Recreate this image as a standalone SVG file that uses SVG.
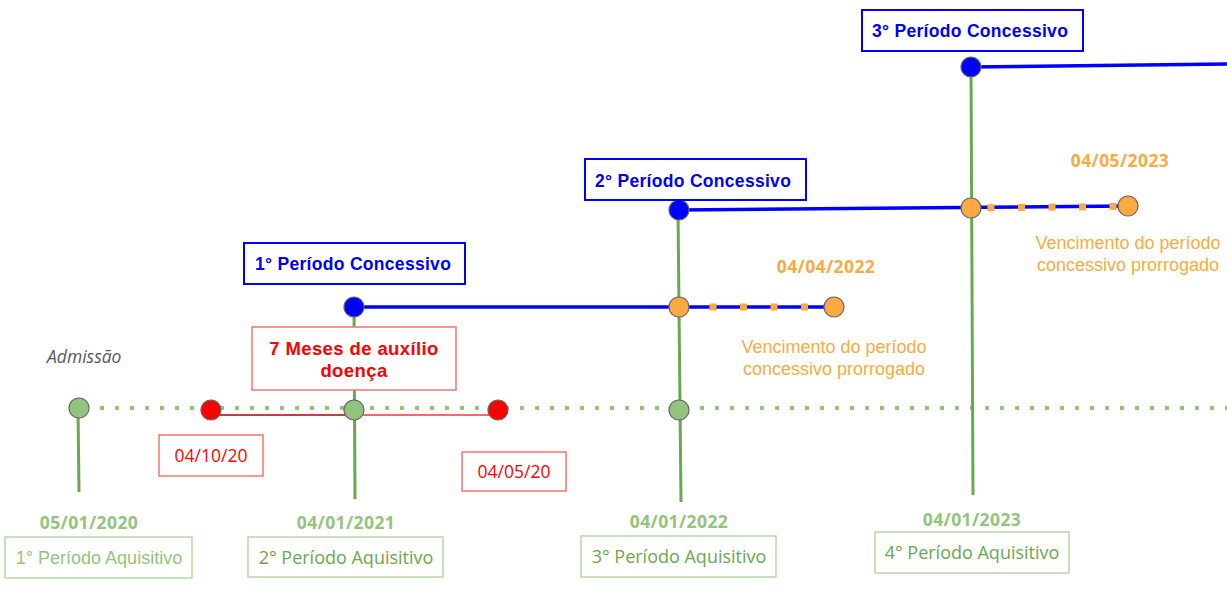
<svg xmlns="http://www.w3.org/2000/svg" width="1227" height="598" viewBox="0 0 1227 598">
<style>
.gn{fill:#93c47d;stroke:#666;stroke-width:1.2}
.rn{fill:#ff0000;stroke:#666;stroke-width:1.2}
.bn{fill:#0000ff;stroke:#666;stroke-width:1.2}
.on{fill:#fbaa42;stroke:#666;stroke-width:1.2}
.vl{stroke:#6aa84f;stroke-width:3;fill:none}
.bl{stroke:#0000ff;stroke-width:3.5;fill:none}
.od{stroke:#fbaa42;stroke-width:7;stroke-dasharray:7 23.5;fill:none}
.bbox{fill:#fff;stroke:#0000ff;stroke-width:2}
.btx{font-family:"Liberation Sans",Arial,sans-serif;font-weight:bold;font-size:17.5px;fill:#0000ff;letter-spacing:0.3px}
.rbox{fill:#fff;stroke:#ff7070;stroke-width:1.5}
.rtx{font-family:"Open Sans",sans-serif;font-size:17.5px;fill:#ff0000;text-anchor:middle}
.rbt{font-family:"Liberation Sans",Arial,sans-serif;font-weight:bold;font-size:18.5px;fill:#ff0000;text-anchor:middle;letter-spacing:0.4px}
.gbox{fill:#fff;stroke:#b6d7a8;stroke-width:1.5}
.gtx{font-family:"Open Sans",sans-serif;font-size:18px;fill:#6aa84f;text-anchor:middle}
.gtx1{font-family:"Liberation Sans",Arial,sans-serif;font-size:18px;fill:#93c47d;text-anchor:middle}
.gdt{font-family:"Open Sans",sans-serif;font-weight:bold;font-size:17.5px;fill:#93c47d;text-anchor:middle;letter-spacing:0.4px}
.odt{font-family:"Open Sans",sans-serif;font-weight:bold;font-size:17.5px;fill:#fbaa42;text-anchor:middle;letter-spacing:0.4px}
.otx{font-family:"Liberation Sans",Arial,sans-serif;font-size:18px;fill:#fbaa42;text-anchor:middle}
.adm{font-family:"Open Sans",sans-serif;font-style:italic;font-size:17.5px;fill:#595959}
</style>
<g id="connectors">
  <line x1="100" y1="408" x2="1227" y2="408" stroke="#93c47d" stroke-width="4" stroke-dasharray="4 11"/>
  <line class="vl" x1="78" y1="408" x2="79" y2="492"/>
  <line class="vl" x1="354" y1="307" x2="355" y2="499"/>
  <line class="vl" x1="678" y1="210" x2="681" y2="502"/>
  <line class="vl" x1="971" y1="67" x2="973" y2="495"/>
  <line x1="211" y1="415" x2="354" y2="415" stroke="#b00000" stroke-width="1.5"/>
  <line x1="354" y1="415" x2="498" y2="415" stroke="#ff3333" stroke-width="1.5"/>
  <line class="bl" x1="354" y1="307" x2="834" y2="307"/>
  <line class="bl" x1="679" y1="210" x2="1128" y2="206"/>
  <line class="bl" x1="971" y1="67" x2="1227" y2="64"/>
  <line class="od" x1="709.5" y1="307" x2="834" y2="307"/>
  <line class="od" x1="987.5" y1="207.7" x2="1122" y2="206.5"/>
</g>
<g id="n-admissao"><circle class="gn" cx="79" cy="408" r="10"/><text class="adm" x="47" y="363">Admissão</text></g>
<g id="n-g2"><circle class="gn" cx="354" cy="410" r="10"/></g>
<g id="n-g3"><circle class="gn" cx="679" cy="410" r="10"/></g>
<g id="n-r1"><circle class="rn" cx="211" cy="410" r="10"/></g>
<g id="n-r2"><circle class="rn" cx="498" cy="410" r="10"/></g>
<g id="n-b1"><circle class="bn" cx="354" cy="307" r="10"/></g>
<g id="n-b2"><circle class="bn" cx="679" cy="210" r="10"/></g>
<g id="n-b3"><circle class="bn" cx="971" cy="67" r="10"/></g>
<g id="n-o1"><circle class="on" cx="679" cy="307" r="10"/></g>
<g id="n-o2"><circle class="on" cx="834" cy="307" r="10"/></g>
<g id="n-o3"><circle class="on" cx="971" cy="208" r="10"/></g>
<g id="n-o4"><circle class="on" cx="1128" cy="206" r="10"/></g>
<g id="c1"><rect class="bbox" x="244" y="243" width="221" height="41"/><text class="btx" x="255" y="270">1° Período Concessivo</text></g>
<g id="c2"><rect class="bbox" x="585" y="159" width="221" height="41"/><text class="btx" x="595" y="187">2° Período Concessivo</text></g>
<g id="c3"><rect class="bbox" x="862" y="10" width="221" height="41"/><text class="btx" x="872" y="37">3° Período Concessivo</text></g>
<g id="auxilio"><rect class="rbox" x="252" y="327" width="204" height="63"/><text class="rbt" x="354" y="355">7 Meses de auxílio<tspan x="354" dy="22">doença</tspan></text></g>
<g id="d1"><rect class="rbox" x="159" y="435" width="104" height="41"/><text class="rtx" x="211" y="462">04/10/20</text></g>
<g id="d2"><rect class="rbox" x="462" y="452" width="104" height="39"/><text class="rtx" x="514" y="478">04/05/20</text></g>
<g id="v1"><text class="odt" x="826" y="273">04/04/2022</text><text class="otx" x="834" y="353">Vencimento do período<tspan x="834" dy="22">concessivo prorrogado</tspan></text></g>
<g id="v2"><text class="odt" x="1120" y="167">04/05/2023</text><text class="otx" x="1128" y="249">Vencimento do período<tspan x="1128" dy="22">concessivo prorrogado</tspan></text></g>
<g id="a1"><text class="gdt" x="89" y="529">05/01/2020</text><rect class="gbox" x="5" y="537" width="187" height="41"/><text class="gtx1" x="99" y="564">1° Período Aquisitivo</text></g>
<g id="a2"><text class="gdt" x="346" y="529">04/01/2021</text><rect class="gbox" x="248" y="537" width="195" height="40"/><text class="gtx" x="346" y="564">2° Período Aquisitivo</text></g>
<g id="a3"><text class="gdt" x="679" y="528">04/01/2022</text><rect class="gbox" x="581" y="536" width="195" height="41"/><text class="gtx" x="679" y="563">3° Período Aquisitivo</text></g>
<g id="a4"><text class="gdt" x="972" y="526">04/01/2023</text><rect class="gbox" x="875" y="532" width="194" height="41"/><text class="gtx" x="972" y="559">4° Período Aquisitivo</text></g>
</svg>
